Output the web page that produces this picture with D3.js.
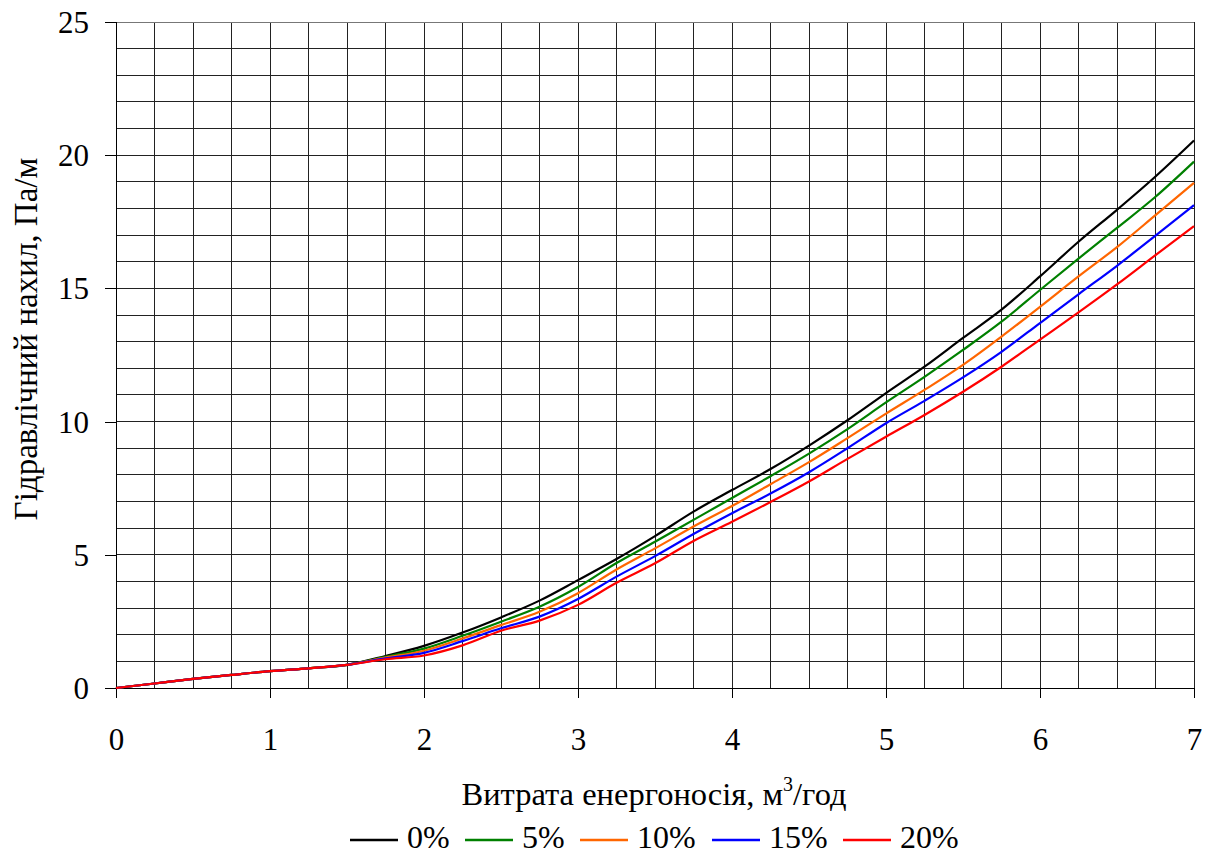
<!DOCTYPE html>
<html>
<head>
<meta charset="utf-8">
<script src="https://cdn.jsdelivr.net/npm/d3@7"></script>
<style>
  body { margin: 0; background: #fff; }
</style>
</head>
<body>
<svg width="1208" height="855"></svg>
<script>
// витрата, м3/год
var flow = [0, 0.25, 0.5, 0.75, 1, 1.25, 1.5, 1.75, 2, 2.25, 2.5, 2.75, 3, 3.25, 3.5, 3.75,
            4, 4.25, 4.5, 4.75, 5, 5.25, 5.5, 5.75, 6, 6.25, 6.5, 6.75, 7];

var s0  = [0, 0.17, 0.34, 0.49, 0.63, 0.74, 0.87, 1.20, 1.58, 2.08, 2.65, 3.28, 4.05, 4.84, 5.70, 6.62,
           7.43, 8.22, 9.10, 10.05, 11.07, 12.06, 13.14, 14.20, 15.45, 16.75, 17.95, 19.20, 20.55];
var s5  = [0, 0.17, 0.34, 0.49, 0.63, 0.74, 0.87, 1.17, 1.48, 1.96, 2.49, 3.05, 3.79, 4.69, 5.49, 6.31,
           7.13, 7.95, 8.80, 9.72, 10.72, 11.68, 12.69, 13.75, 14.94, 16.12, 17.27, 18.44, 19.76];
var s10 = [0, 0.17, 0.34, 0.49, 0.63, 0.74, 0.87, 1.14, 1.40, 1.86, 2.36, 2.86, 3.56, 4.45, 5.24, 6.06,
           6.83, 7.65, 8.48, 9.38, 10.30, 11.19, 12.13, 13.19, 14.31, 15.45, 16.55, 17.75, 18.96];
var s15 = [0, 0.17, 0.34, 0.49, 0.63, 0.74, 0.87, 1.11, 1.32, 1.76, 2.24, 2.68, 3.34, 4.18, 4.95, 5.78,
           6.56, 7.30, 8.10, 9.00, 9.94, 10.78, 11.66, 12.62, 13.70, 14.78, 15.85, 16.98, 18.13];
var s20 = [0, 0.17, 0.34, 0.49, 0.63, 0.74, 0.87, 1.08, 1.22, 1.60, 2.15, 2.53, 3.12, 3.95, 4.68, 5.52,
           6.24, 6.98, 7.75, 8.60, 9.43, 10.25, 11.12, 12.06, 13.08, 14.10, 15.15, 16.25, 17.34];

var names = ["0%", "5%", "10%", "15%", "20%"];
var colors = ["#000000", "#008000", "#ff6600", "#0000ff", "#ff0000"];
var series = [s0, s5, s10, s15, s20];

var xTicks = [0, 1, 2, 3, 4, 5, 6, 7];
var yTicks = [0, 5, 10, 15, 20, 25];

var svg = d3.select("svg");
var pLeft = 116, pRight = 1194, pTop = 22, pBottom = 688;
var serif = "'Liberation Serif'";

var x = d3.scaleLinear().domain([0, 7]).range([pLeft, pRight]);
var y = d3.scaleLinear().domain([0, 25]).range([pBottom, pTop]);

// сітка
var grid = svg.append("g").attr("stroke", "#222").attr("stroke-width", 1).attr("shape-rendering", "crispEdges");
grid.selectAll("line.v").data(d3.range(1, 29).map(function(i) { return i * 0.25; }))
  .enter().append("line")
  .attr("x1", function(d) { return x(d); }).attr("x2", function(d) { return x(d); })
  .attr("y1", y(0)).attr("y2", y(25));
grid.selectAll("line.h").data(d3.range(1, 26))
  .enter().append("line")
  .attr("x1", x(0)).attr("x2", x(7))
  .attr("y1", function(d) { return y(d); }).attr("y2", function(d) { return y(d); })
  .attr("stroke", function(d) { return d == 25 ? "#777" : null; });

// осі
var yAxis = d3.axisLeft(y).tickValues(yTicks).tickSize(11).tickPadding(16).tickFormat(d3.format("d"));
var gy = svg.append("g").attr("transform", "translate(" + pLeft + ",0)").call(yAxis);
var xAxis = d3.axisBottom(x).tickValues(xTicks).tickSize(10).tickPadding(30).tickFormat(d3.format("d"));
var gx = svg.append("g").attr("transform", "translate(0," + pBottom + ")").call(xAxis);

[gx, gy].forEach(function(g) {
  g.attr("font-family", null).attr("font-size", null);
  g.select(".domain").attr("stroke", "#000").attr("shape-rendering", "crispEdges");
  g.selectAll(".tick line").attr("stroke", "#000").attr("shape-rendering", "crispEdges");
  g.selectAll("text").style("font-family", serif).style("font-size", "31px").attr("fill", "#000");
});
gy.select(".domain").attr("d", "M0," + pBottom + "V" + pTop);
gx.select(".domain").attr("d", "M" + pLeft + ",0H" + pRight);
gy.selectAll(".tick text").attr("dy", "0.34em");

// криві
var line = d3.line()
  .x(function(d, i) { return x(flow[i]); })
  .y(function(d) { return y(d); })
  .curve(d3.curveMonotoneX);

svg.append("g").selectAll("path").data(series).enter().append("path")
  .attr("d", line)
  .attr("fill", "none")
  .attr("stroke", function(d, i) { return colors[i]; })
  .attr("stroke-width", 2.2);

// підписи осей
var xt = svg.append("text")
  .attr("x", 654).attr("y", 805)
  .attr("text-anchor", "middle").style("font-family", serif).style("font-size", "32.5px");
xt.append("tspan").text("Витрата енергоносія, м");
xt.append("tspan").text("3").style("font-size", "20px").attr("dy", -14);
xt.append("tspan").text("/год").attr("dy", 14);

svg.append("text")
  .attr("transform", "translate(37,339) rotate(-90)")
  .attr("text-anchor", "middle").style("font-family", serif).style("font-size", "33px")
  .text("Гідравлічний нахил, Па/м");

// легенда
var legX = [350, 465, 580, 712, 843];
var leg = svg.append("g").selectAll("g").data(names).enter().append("g")
  .attr("transform", function(d, i) { return "translate(" + legX[i] + ",837)"; });
leg.append("line").attr("x1", 0).attr("x2", 48).attr("y1", 3).attr("y2", 3)
  .attr("stroke", function(d, i) { return colors[i]; }).attr("stroke-width", 2.5);
leg.append("text").attr("x", 57).attr("y", 0).attr("dy", "0.34em")
  .style("font-family", serif).style("font-size", "32px").text(function(d) { return d; });
</script>
</body>
</html>
